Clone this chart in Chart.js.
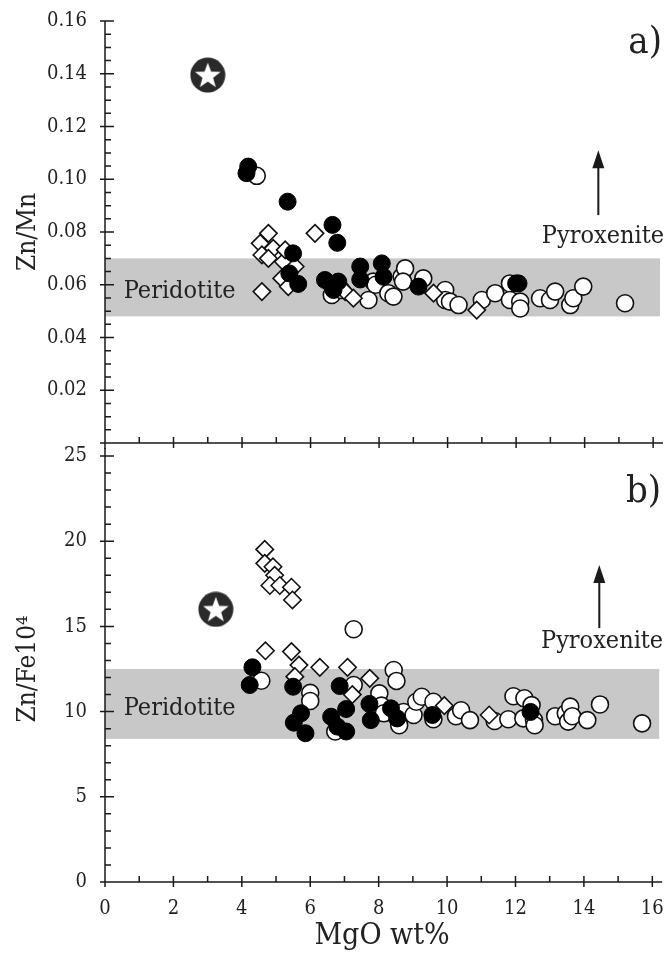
<!DOCTYPE html>
<html>
<head>
<meta charset="utf-8">
<script src="https://cdn.jsdelivr.net/npm/chart.js@4.4.1/dist/chart.umd.min.js"></script>
<style>
  html, body { margin: 0; background: #fff; overflow: hidden; }
  .panel { position: absolute; left: 0; width: 679px; }
  #panelA { top: -9px; height: 482px; }
  #panelB { top: 426px; height: 532px; }
</style>
</head>
<body>
<div class="panel" id="panelA"><canvas id="chartA"></canvas></div>
<div class="panel" id="panelB"><canvas id="chartB"></canvas></div>
<script>
const FONT = '"DejaVu Serif Condensed", "DejaVu Serif", serif';
const INK = '#222';

// Panel a) Zn/Mn vs MgO
const aBlack = [[4.18,0.1048],[4.13,0.1023],[5.33,0.0915],[6.64,0.0827],[6.78,0.0759],[5.49,0.0719],
  [5.38,0.0643],[5.64,0.0603],[6.42,0.0618],[6.57,0.0605],[6.81,0.0612],[6.67,0.0580],[7.45,0.0669],
  [7.45,0.0620],[8.08,0.0681],[8.13,0.0630],[9.15,0.0593],[12.07,0.0605],[12.0,0.0605]];
const aOpen = [[4.43,0.1013],[6.62,0.0561],[6.9,0.0580],[7.69,0.0542],[7.83,0.0612],[7.9,0.0600],
  [8.27,0.0568],[8.42,0.0555],[8.66,0.0631],[8.76,0.0662],[8.7,0.0612],[9.29,0.0624],[9.93,0.0580],
  [9.93,0.0542],[10.07,0.0536],[10.32,0.0523],[11.0,0.0542],[11.39,0.0568],[11.82,0.0605],[11.82,0.0542],
  [12.12,0.0536],[12.12,0.0510],[12.7,0.0549],[12.99,0.0542],[13.14,0.0574],[13.58,0.0523],[13.67,0.0549],
  [13.96,0.0593],[15.18,0.0530]];
const aDiamond = [[4.77,0.0795],[4.53,0.0757],[4.91,0.0738],[4.58,0.0713],[4.77,0.0700],[5.21,0.0687],
  [5.26,0.0732],[5.55,0.0669],[5.16,0.0624],[5.35,0.0593],[4.58,0.0574],[6.13,0.0795],[7.01,0.0574],
  [7.25,0.0549],[9.59,0.0568],[10.85,0.0504]];
const aStar = [[3.0,0.1395]];
const aBand = [0.048, 0.070];

// Panel b) Zn/Fe*10^4 vs MgO
const bBlack = [[4.31,12.6],[4.23,11.56],[5.5,11.46],[5.52,9.35],[5.73,9.9],[5.86,8.73],[6.61,9.7],
  [6.79,9.12],[7.05,8.83],[7.05,10.15],[6.86,11.5],[7.73,10.45],[7.77,9.5],[8.36,10.19],[8.54,9.6],
  [9.57,9.8],[12.44,9.98]];
const bOpen = [[4.57,11.81],[6.0,11.1],[6.0,10.62],[6.73,8.83],[7.27,11.56],[7.27,14.83],[8.02,11.07],
  [8.08,10.35],[8.15,9.9],[8.44,12.44],[8.52,11.8],[8.6,9.2],[8.73,9.98],[9.02,9.8],[9.1,10.58],
  [9.26,10.87],[9.6,9.55],[9.6,10.58],[10.26,9.73],[10.41,10.08],[10.67,9.5],[11.39,9.45],[11.79,9.55],
  [11.94,10.9],[12.26,10.78],[12.47,10.38],[12.23,9.6],[12.54,9.5],[12.56,9.2],[13.16,9.73],[13.47,9.9],
  [13.6,10.29],[13.54,9.41],[13.66,9.73],[14.1,9.5],[14.47,10.42],[15.7,9.31]];
const bDiamond = [[4.67,19.52],[4.67,18.7],[4.91,18.5],[4.96,18.0],[4.82,17.4],[5.11,17.4],[5.45,17.3],
  [5.48,16.55],[4.69,13.57],[5.45,13.52],[5.67,12.73],[5.55,12.05],[6.28,12.6],[7.09,12.6],[7.74,11.95],
  [7.23,11.0],[9.92,10.35],[11.23,9.8]];
const bStar = [[3.24,16.0]];
const bBand = [8.4, 12.5];

function pts(list) { return list.map(p => ({ x: p[0], y: p[1] })); }

function makeStar() {
  const c = document.createElement('canvas');
  c.width = 36; c.height = 36;
  const g = c.getContext('2d');
  g.fillStyle = '#2a2a2a';
  g.beginPath(); g.arc(18, 18, 17.5, 0, Math.PI * 2); g.fill();
  g.fillStyle = '#fff';
  g.beginPath();
  for (let i = 0; i < 10; i++) {
    const r = i % 2 ? 5.6 : 13.5;
    const a = -Math.PI / 2 + i * Math.PI / 5;
    g.lineTo(18 + r * Math.cos(a), 18 + 1 + r * Math.sin(a));
  }
  g.closePath(); g.fill();
  return c;
}
const starImg = makeStar();

function datasets(black, diamond, open, star) {
  return [
    { data: pts(black), pointStyle: 'circle', radius: 8.5, backgroundColor: '#000', borderColor: '#000', borderWidth: 1 },
    { data: pts(diamond), pointStyle: 'rectRot', radius: 8.7, backgroundColor: '#fff', borderColor: '#111', borderWidth: 1.6 },
    { data: pts(open), pointStyle: 'circle', radius: 8.5, backgroundColor: '#fff', borderColor: '#111', borderWidth: 1.6 },
    { data: pts(star), pointStyle: starImg, radius: 18 }
  ];
}

// band, hand-drawn axes with minor ticks, arrow and labels
const panelDecor = {
  id: 'panelDecor',
  beforeDatasetsDraw(chart, args, o) {
    const { ctx, chartArea: ca, scales: { y } } = chart;
    const y1 = y.getPixelForValue(o.band[1]), y0 = y.getPixelForValue(o.band[0]);
    ctx.save();
    ctx.fillStyle = '#c8c8c8';
    ctx.fillRect(ca.left, y1, ca.right - ca.left, y0 - y1);
    ctx.restore();
  },
  afterDraw(chart, args, o) {
    const { ctx, chartArea: ca, scales: { x, y } } = chart;
    ctx.save();
    ctx.strokeStyle = '#1a1a1a';
    ctx.lineWidth = 1.5;
    ctx.beginPath();
    ctx.moveTo(ca.left, ca.top - o.lineAbove);
    ctx.lineTo(ca.left, ca.bottom + o.lineBelow);
    ctx.moveTo(ca.left, ca.bottom);
    ctx.lineTo(ca.right + 3, ca.bottom);
    // y ticks
    const ny = Math.round((y.max - y.min) / o.yMinor);
    for (let i = 0; i <= ny; i++) {
      const v = y.min + i * o.yMinor;
      const py = y.getPixelForValue(v);
      const r = v / o.yMajor;
      const major = Math.abs(r - Math.round(r)) < 1e-6;
      ctx.moveTo(ca.left - (major ? 5 : 0), py);
      ctx.lineTo(ca.left + (major ? 9 : 6), py);
    }
    // x ticks
    for (let v = 0; v <= 16; v++) {
      const px = x.getPixelForValue(v);
      const major = v % 2 === 0;
      ctx.moveTo(px, ca.bottom + (major ? 5 : 0));
      ctx.lineTo(px, ca.bottom - 6);
    }
    ctx.stroke();

    // arrow toward Pyroxenite
    const ax = x.getPixelForValue(o.arrow[0]);
    const ay0 = y.getPixelForValue(o.arrow[1]);
    const ay1 = y.getPixelForValue(o.arrow[2]);
    ctx.lineWidth = 2;
    ctx.beginPath();
    ctx.moveTo(ax, ay0); ctx.lineTo(ax, ay1 + 12);
    ctx.stroke();
    ctx.fillStyle = '#1a1a1a';
    ctx.beginPath();
    ctx.moveTo(ax, ay1); ctx.lineTo(ax - 6, ay1 + 18); ctx.lineTo(ax + 6, ay1 + 18);
    ctx.closePath(); ctx.fill();

    ctx.fillStyle = INK;
    ctx.textBaseline = 'alphabetic';
    ctx.textAlign = 'right';
    ctx.font = '25px ' + FONT;
    ctx.fillText('Pyroxenite', ca.right + 4, y.getPixelForValue(o.pyroY));
    ctx.font = '38px ' + FONT;
    ctx.fillText(o.tag, ca.right + 2, y.getPixelForValue(o.tagY));
    ctx.textAlign = 'left';
    ctx.font = '25px ' + FONT;
    ctx.fillText('Peridotite', x.getPixelForValue(0.55), y.getPixelForValue(o.periY));
    ctx.restore();
  }
};

function yScale(min, max, step, title, fmt) {
  return {
    min: min, max: max,
    ticks: { stepSize: step, includeBounds: false, padding: 18, color: INK,
      font: { family: FONT, size: 20 }, callback: fmt },
    grid: { display: false, drawTicks: false },
    border: { display: false },
    title: { display: true, text: title, color: INK, font: { family: FONT, size: 26 }, padding: { top: 13 } },
    afterFit: s => { s.width = 105; }
  };
}

new Chart(document.getElementById('chartA'), {
  type: 'scatter',
  data: { datasets: datasets(aBlack, aDiamond, aOpen, aStar) },
  options: {
    responsive: true, maintainAspectRatio: false, animation: false, events: [],
    layout: { padding: { top: 0, right: 7, left: 0, bottom: 0 } },
    scales: {
      x: { type: 'linear', min: 0, max: 16.2, ticks: { display: false, stepSize: 2, includeBounds: false },
        grid: { display: false, drawTicks: false }, border: { display: false },
        afterFit: s => { s.height = 7; } },
      y: yScale(0, 0.16, 0.02, 'Zn/Mn', v => (v === 0 ? '' : v.toFixed(2)))
    },
    plugins: {
      legend: { display: false }, tooltip: { enabled: false },
      panelDecor: { band: aBand, yMinor: 0.005, yMajor: 0.02, lineAbove: 0, lineBelow: 6,
        arrow: [14.4, 0.0864, 0.111], pyroY: 0.0758, tag: 'a)', tagY: 0.1479, periY: 0.055 }
    }
  },
  plugins: [panelDecor]
});

new Chart(document.getElementById('chartB'), {
  type: 'scatter',
  data: { datasets: datasets(bBlack, bDiamond, bOpen, bStar) },
  options: {
    responsive: true, maintainAspectRatio: false, animation: false, events: [],
    layout: { padding: { top: 0, right: 7, left: 0, bottom: 0 } },
    scales: {
      x: { type: 'linear', min: 0, max: 16.2,
        ticks: { stepSize: 2, includeBounds: false, padding: 15, color: INK, maxRotation: 0,
          font: { family: FONT, size: 20 } },
        grid: { display: false, drawTicks: false }, border: { display: false },
        title: { display: true, text: 'MgO wt%', color: INK, font: { family: FONT, size: 30 }, padding: { bottom: 4 } },
        afterFit: s => { s.height = 76; } },
      y: yScale(0, 25, 5, 'Zn/Fe10⁴', v => String(v))
    },
    plugins: {
      legend: { display: false }, tooltip: { enabled: false },
      panelDecor: { band: bBand, yMinor: 1, yMajor: 5, lineAbove: 8, lineBelow: 0,
        arrow: [14.45, 14.9, 18.6], pyroY: 13.73, tag: 'b)', tagY: 22.3, periY: 9.8 }
    }
  },
  plugins: [panelDecor]
});
</script>
</body>
</html>
